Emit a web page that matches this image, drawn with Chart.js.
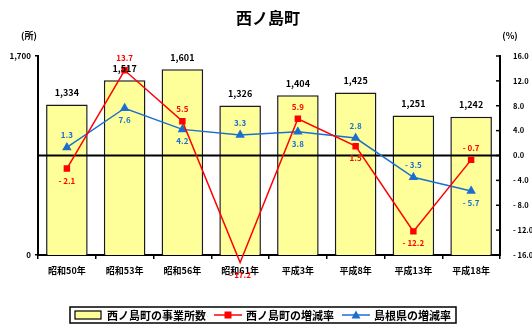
<!DOCTYPE html>
<html lang="ja">
<head>
<meta charset="utf-8">
<script src="https://cdn.jsdelivr.net/npm/chart.js@4.4.0/dist/chart.umd.min.js"></script>
<style>
html, body { margin: 0; padding: 0; background: #fff; }
</style>
</head>
<body>
<canvas id="graph_nishinoshima" width="532" height="329"></canvas>
<script>
// 西ノ島町 事業所数と増減率
var years = ['昭和50年', '昭和53年', '昭和56年', '昭和61年', '平成3年', '平成8年', '平成13年', '平成18年'];
var offices = [1334, 1517, 1601, 1326, 1404, 1425, 1251, 1242];      // 事業所数
var townRate = [-2.1, 13.7, 5.5, -17.2, 5.9, 1.5, -12.2, -0.7];      // 西ノ島町の増減率(%)
var prefRate = [1.3, 7.6, 4.2, 3.3, 3.8, 2.8, -3.5, -5.7];           // 島根県の増減率(%)

// 左軸は省略軸(下端を0表示)
var leftTicks = [200, 1700];
var leftTickText = ['0', '1,700'];

var FONT = '"Noto Sans CJK JP", "Noto Sans", sans-serif';
var RED = '#ff0000';
var BLUE = '#1c6fd1';
var YELLOW = '#ffff99';

function fmt1(v) {
    return (v < 0 ? '- ' : '') + Math.abs(v).toFixed(1);
}

var extras = {
    id: 'extras',
    afterDatasetDraw: function (chart, args) {
        if (args.index !== 0) return;
        // 0%の横線(棒の上、折れ線の下)
        var ctx = chart.ctx, a = chart.chartArea;
        var y0 = chart.scales.rate.getPixelForValue(0);
        ctx.save();
        ctx.strokeStyle = '#000';
        ctx.lineWidth = 2;
        ctx.beginPath();
        ctx.moveTo(a.left, y0);
        ctx.lineTo(a.right, y0);
        ctx.stroke();
        ctx.restore();
    },
    afterDraw: function (chart) {
        var ctx = chart.ctx, a = chart.chartArea;
        var rate = chart.scales.rate;
        ctx.save();

        // タイトル・単位
        ctx.fillStyle = '#000';
        ctx.textAlign = 'center';
        ctx.textBaseline = 'middle';
        ctx.font = 'bold 16px ' + FONT;
        ctx.fillText('西ノ島町', 268, 18);
        ctx.font = 'bold 9px ' + FONT;
        ctx.fillText('(所)', 29, 36);
        ctx.fillText('(%)', 510, 36);

        // 右軸の内向き目盛
        ctx.strokeStyle = '#000';
        ctx.lineWidth = 1.5;
        rate.ticks.forEach(function (t) {
            var y = rate.getPixelForValue(t.value);
            ctx.beginPath();
            ctx.moveTo(a.right - 4, y);
            ctx.lineTo(a.right, y);
            ctx.stroke();
        });

        // 事業所数ラベル
        var barMeta = chart.getDatasetMeta(0);
        ctx.font = 'bold 9px ' + FONT;
        barMeta.data.forEach(function (bar, i) {
            ctx.fillText(offices[i].toLocaleString('en-US'), bar.x, bar.y - 12);
        });

        // 増減率ラベル(上にある方を上、下にある方を下へ)
        var townMeta = chart.getDatasetMeta(1);
        var prefMeta = chart.getDatasetMeta(2);
        ctx.font = 'bold 8px ' + FONT;
        townMeta.data.forEach(function (pt, i) {
            var up = townRate[i] > prefRate[i];
            ctx.fillStyle = RED;
            ctx.fillText(fmt1(townRate[i]), pt.x, pt.y + (up ? -12 : 12));
        });
        prefMeta.data.forEach(function (pt, i) {
            var up = prefRate[i] >= townRate[i];
            ctx.fillStyle = BLUE;
            ctx.fillText(fmt1(prefRate[i]), pt.x, pt.y + (up ? -12 : 12));
        });

        // 凡例
        var names = ['西ノ島町の事業所数', '西ノ島町の増減率', '島根県の増減率'];
        ctx.font = 'bold 11px ' + FONT;
        var sample = 28, gap = 4, pad = 5, sep = 8;
        var widths = names.map(function (n) { return ctx.measureText(n).width; });
        var total = pad * 2 + sep * 2;
        widths.forEach(function (w) { total += sample + gap + w; });
        var x = 263 - total / 2, top = 307, h = 16, cy = top + h / 2;
        ctx.strokeStyle = '#000';
        ctx.lineWidth = 1.5;
        ctx.strokeRect(x, top, total, h);
        x += pad;
        ctx.textAlign = 'left';
        // 棒
        ctx.fillStyle = YELLOW;
        ctx.fillRect(x, cy - 4, sample - 2, 8);
        ctx.lineWidth = 1.2;
        ctx.strokeRect(x, cy - 4, sample - 2, 8);
        ctx.fillStyle = '#000';
        ctx.fillText(names[0], x + sample + gap, cy + 1);
        x += sample + gap + widths[0] + sep;
        // 町の折れ線
        ctx.strokeStyle = RED;
        ctx.lineWidth = 1.5;
        ctx.beginPath(); ctx.moveTo(x, cy); ctx.lineTo(x + sample, cy); ctx.stroke();
        ctx.fillStyle = RED;
        ctx.fillRect(x + sample / 2 - 3.5, cy - 3.5, 7, 7);
        ctx.fillStyle = '#000';
        ctx.fillText(names[1], x + sample + gap, cy + 1);
        x += sample + gap + widths[1] + sep;
        // 県の折れ線
        ctx.strokeStyle = BLUE;
        ctx.beginPath(); ctx.moveTo(x, cy); ctx.lineTo(x + sample, cy); ctx.stroke();
        ctx.fillStyle = BLUE;
        ctx.beginPath();
        ctx.moveTo(x + sample / 2, cy - 4.5);
        ctx.lineTo(x + sample / 2 + 4.5, cy + 3.5);
        ctx.lineTo(x + sample / 2 - 4.5, cy + 3.5);
        ctx.closePath();
        ctx.fill();
        ctx.fillStyle = '#000';
        ctx.fillText(names[2], x + sample + gap, cy + 1);

        ctx.restore();
    }
};

var ctx = document.getElementById('graph_nishinoshima').getContext('2d');
var myChart = new Chart(ctx, {
    data: {
        labels: years,
        datasets: [{
            type: 'bar',
            label: '西ノ島町の事業所数',
            data: offices,
            yAxisID: 'y',
            backgroundColor: YELLOW,
            borderColor: '#1a1a1a',
            borderWidth: 1.5,
            barPercentage: 0.72,
            categoryPercentage: 1,
            order: 3
        }, {
            type: 'line',
            label: '西ノ島町の増減率',
            data: townRate,
            yAxisID: 'rate',
            borderColor: RED,
            borderWidth: 1.5,
            pointStyle: 'rect',
            pointRadius: 3.5,
            pointBackgroundColor: RED,
            pointBorderColor: RED,
            tension: 0,
            clip: false,
            order: 1
        }, {
            type: 'line',
            label: '島根県の増減率',
            data: prefRate,
            yAxisID: 'rate',
            borderColor: BLUE,
            borderWidth: 1.5,
            pointStyle: 'triangle',
            pointRadius: 4,
            pointBackgroundColor: BLUE,
            pointBorderColor: BLUE,
            tension: 0,
            clip: false,
            order: 2
        }]
    },
    options: {
        responsive: false,
        animation: false,
        layout: { padding: { top: 56, left: 0, right: 0, bottom: 0 } },
        plugins: {
            legend: { display: false },
            title: { display: false },
            tooltip: { enabled: false }
        },
        scales: {
            x: {
                offset: true,
                grid: { display: true, drawOnChartArea: false, offset: true, tickLength: 4, color: '#000', lineWidth: 1.5 },
                border: { color: '#000', width: 2 },
                ticks: { color: '#000', padding: 6, maxRotation: 0, autoSkip: false, font: { family: FONT, size: 9, weight: 'bold' } },
                afterFit: function (s) { s.height = 74; }
            },
            y: {
                position: 'left',
                min: 200,
                max: 1700,
                afterBuildTicks: function (s) {
                    s.ticks = leftTicks.map(function (v) { return { value: v }; });
                },
                grid: { display: true, drawOnChartArea: false, tickLength: 3, color: '#000', lineWidth: 1.5 },
                border: { color: '#000', width: 2 },
                ticks: {
                    color: '#000',
                    padding: 4,
                    font: { family: FONT, size: 8, weight: 'bold' },
                    callback: function (v, i) { return leftTickText[i]; }
                },
                afterFit: function (s) { s.width = 38; }
            },
            rate: {
                position: 'right',
                min: -16,
                max: 16,
                grid: { display: false },
                border: { color: '#000', width: 2 },
                ticks: {
                    stepSize: 4,
                    color: '#000',
                    padding: 5,
                    font: { family: FONT, size: 7.5, weight: 'bold' },
                    callback: function (v) { return fmt1(v); }
                },
                afterFit: function (s) { s.width = 32; }
            }
        }
    },
    plugins: [extras]
});
</script>
</body>
</html>
